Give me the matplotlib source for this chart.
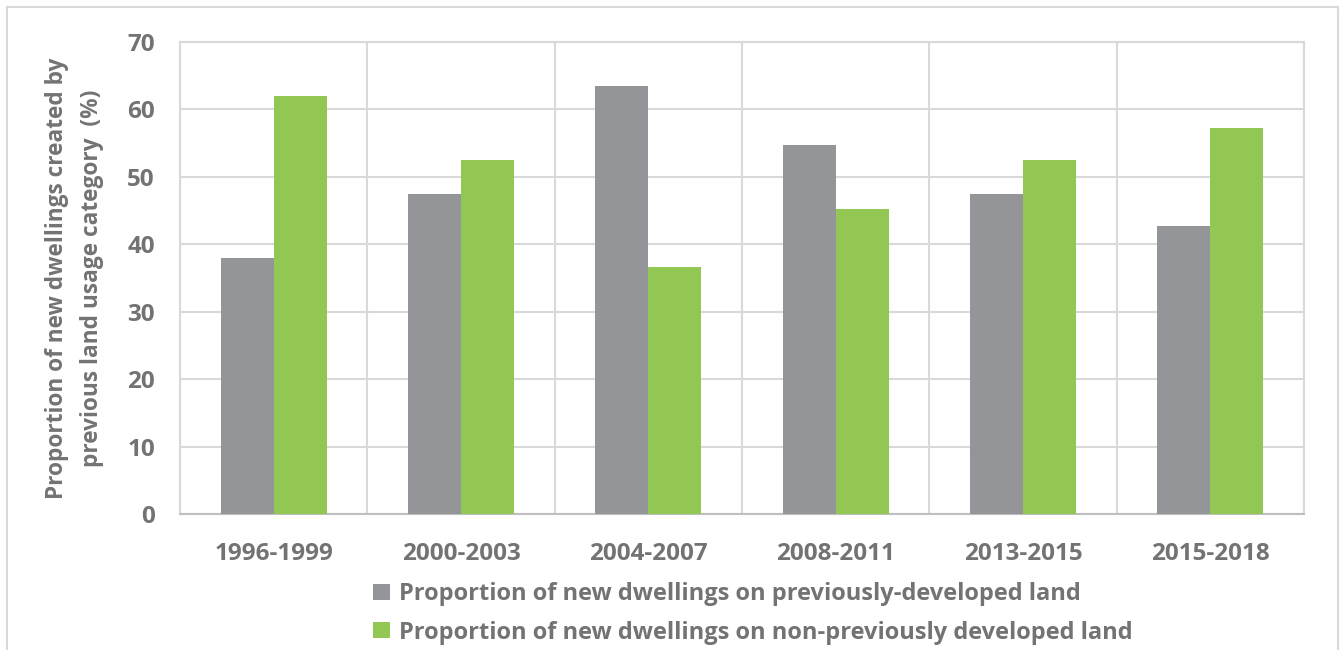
import matplotlib.pyplot as plt
import numpy as np
from matplotlib.patches import Rectangle

periods = ["1996-1999", "2000-2003", "2004-2007", "2008-2011", "2013-2015", "2015-2018"]
previously_developed = [38.0, 47.5, 63.4, 54.7, 47.5, 42.7]
non_previously_developed = [62.0, 52.5, 36.6, 45.3, 52.5, 57.3]

label_prev = "Proportion of new dwellings on previously-developed land"
label_nonprev = "Proportion of new dwellings on non-previously developed land"

GREY = "#939598"
GREEN = "#92C754"
TEXT = "#737373"
GRID = "#d9d9d9"

plt.rcParams["font.family"] = ["Open Sans", "DejaVu Sans"]

fig = plt.figure(figsize=(13.42, 6.5), dpi=100)
ax = fig.add_axes([0.1341, 0.2092, 0.8376, 0.7262])

# outer chart frame
fig.patches.append(Rectangle((7 / 1342, -0.01), 1331 / 1342, 1 - 7 / 650 + 0.01,
                             transform=fig.transFigure, fill=False,
                             edgecolor=GRID, linewidth=1.5))

x = np.arange(len(periods))
w = 0.283
ax.bar(x - w / 2, previously_developed, w, color=GREY, label=label_prev, zorder=3)
ax.bar(x + w / 2, non_previously_developed, w, color=GREEN, label=label_nonprev, zorder=3)

ax.set_xlim(-0.5, len(periods) - 0.5)
ax.set_ylim(0, 70)
ax.set_yticks(range(0, 71, 10))
ax.set_xticks(x)
ax.set_xticklabels(periods)

# vertical separators between categories
ax.set_xticks(np.arange(-0.5, len(periods), 1), minor=True)
ax.grid(True, which="minor", axis="x", color=GRID, linewidth=1.5, zorder=0)
ax.grid(True, which="major", axis="y", color=GRID, linewidth=1.5, zorder=0)

for s in ax.spines.values():
    s.set_color(GRID)
    s.set_linewidth(1.5)
ax.spines["bottom"].set_color("#bfbfbf")

ax.tick_params(axis="both", which="both", length=0)
ax.tick_params(axis="x", pad=20, labelsize=17.5, labelcolor=TEXT)
ax.tick_params(axis="y", pad=18, labelsize=17.5, labelcolor=TEXT)
for lab in ax.get_xticklabels() + ax.get_yticklabels():
    lab.set_fontweight("bold")

ax.set_ylabel("Proportion of new dwellings created by\nprevious land usage category  (%)",
              fontsize=16.3, fontweight="bold", color=TEXT, labelpad=17, linespacing=1.6)

leg = fig.legend(loc="upper left", bbox_to_anchor=(364 / 1342, 1 - 573 / 650),
                 frameon=False, fontsize=17, handlelength=0.68, handleheight=0.68,
                 handletextpad=0.4, labelspacing=0.6, borderaxespad=0)
for t in leg.get_texts():
    t.set_color(TEXT)
    t.set_fontweight("bold")

fig.savefig("out.png", dpi=100)
